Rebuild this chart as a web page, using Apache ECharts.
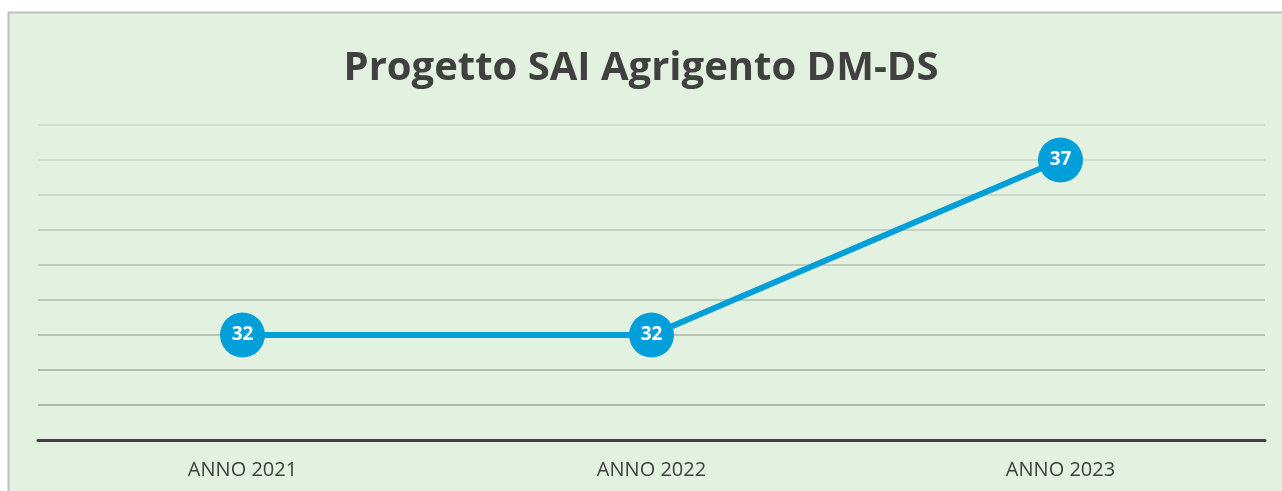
<!DOCTYPE html>
<html>
<head>
<meta charset="utf-8">
<script src="https://cdn.jsdelivr.net/npm/echarts@6/dist/echarts.min.js"></script>
<style>
  html, body { margin: 0; padding: 0; background: #fff; }
  #chart { width: 1282px; height: 491px; }
</style>
</head>
<body>
<div id="chart"></div>
<script>
const titleText = "Progetto SAI Agrigento DM-DS";
const categories = ["ANNO 2021", "ANNO 2022", "ANNO 2023"];
const values = [32, 32, 37];
// gridline colours, bottom to top
const gridColors = ["#404040", "#9ea89b", "#a2ac9f", "#a8b2a5", "#afbaab", "#b6c2b2", "#bdc9b9", "#c4d1c0", "#c9d6c5", "#ccd9c8"];

const chart = echarts.init(document.getElementById("chart"), null, { renderer: "canvas" });

chart.setOption({
  animation: false,
  backgroundColor: "#fff",
  graphic: [
    {
      type: "rect",
      z: -10,
      shape: { x: 8.5, y: 12.5, width: 1300, height: 500 },
      style: { fill: "#e3f2e0", stroke: "#bfbfbf", lineWidth: 2 }
    }
  ],
  title: {
    text: titleText,
    left: "center",
    top: 44,
    textStyle: {
      fontFamily: "Open Sans",
      fontWeight: "bold",
      fontSize: 40,
      color: "#404040"
    }
  },
  grid: { left: 38, right: 17, top: 125, bottom: 51 },
  xAxis: {
    type: "category",
    data: categories,
    boundaryGap: true,
    axisLine: { lineStyle: { color: "#404040", width: 3 } },
    axisTick: { show: false },
    axisLabel: {
      margin: 20,
      fontFamily: "Open Sans",
      fontSize: 20,
      color: "#404040"
    }
  },
  yAxis: {
    type: "value",
    min: 29,
    max: 38,
    interval: 1,
    axisLabel: { show: false },
    axisLine: { show: false },
    axisTick: { show: false },
    splitLine: { lineStyle: { color: gridColors, width: 1.5 } }
  },
  series: [
    {
      type: "line",
      data: values,
      symbol: "circle",
      symbolSize: 45,
      lineStyle: { color: "#009fda", width: 6 },
      itemStyle: { color: "#009fda" },
      label: {
        show: true,
        position: "inside",
        color: "#fff",
        fontFamily: "Open Sans",
        fontWeight: "bold",
        fontSize: 19
      }
    }
  ]
});
</script>
</body>
</html>
